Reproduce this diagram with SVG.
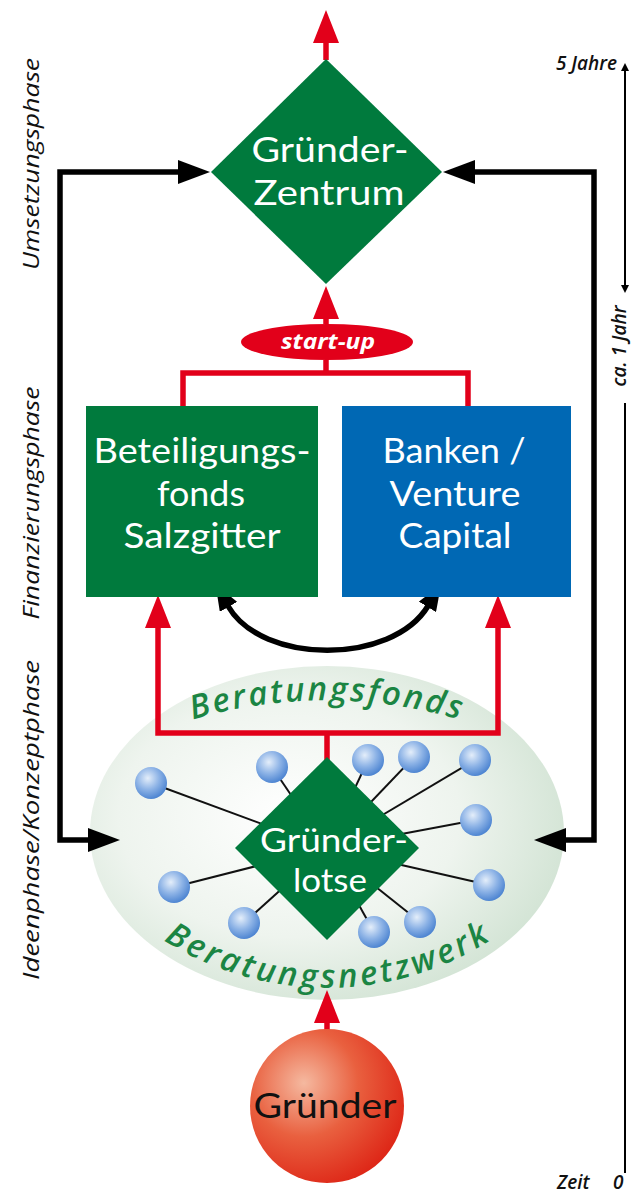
<svg xmlns="http://www.w3.org/2000/svg" width="631" height="1193" viewBox="0 0 631 1193">
<style>
.node-text{font-family:Lato,"Open Sans","Liberation Sans",sans-serif;fill:#fff;text-anchor:middle}
.phase{font-family:"Open Sans","Liberation Sans",sans-serif;font-style:italic;font-size:21px;fill:#111;text-anchor:middle}
.time{font-family:"Open Sans","Liberation Sans",sans-serif;font-style:italic;font-weight:600;font-size:19px;fill:#111}
.arc-label{font-family:"Open Sans","Liberation Sans",sans-serif;font-style:italic;font-weight:600;font-size:33px;fill:#1b8543}
.red{stroke:#e2001a;stroke-width:5.5;fill:none}
.blk{stroke:#000;stroke-width:5.5;fill:none}
.spoke{stroke:#111;stroke-width:2}
.ball{fill:url(#ballGrad)}
</style>
<defs>
<marker id="redHead" viewBox="0 0 33 26" refX="1" refY="13" markerWidth="33" markerHeight="26" markerUnits="userSpaceOnUse" orient="auto-start-reverse"><path d="M0,0 L33,13 L0,26 z" fill="#e2001a"/></marker>
<marker id="blkHead" viewBox="0 0 32 24" refX="1" refY="12" markerWidth="32" markerHeight="24" markerUnits="userSpaceOnUse" orient="auto-start-reverse"><path d="M0,0 L32,12 L0,24 z" fill="#000"/></marker>
<marker id="blkSmall" viewBox="0 0 26 20" refX="1" refY="10" markerWidth="26" markerHeight="20" markerUnits="userSpaceOnUse" orient="auto-start-reverse"><path d="M0,0 L26,10 L0,20 z" fill="#000"/></marker>
<marker id="tinyHead" viewBox="0 0 8 8" refX="1" refY="4" markerWidth="8" markerHeight="8" markerUnits="userSpaceOnUse" orient="auto-start-reverse"><path d="M0,0 L8,4 L0,8 z" fill="#000"/></marker>
<radialGradient id="ellGrad" cx="42%" cy="45%" r="60%"><stop offset="0" stop-color="#ffffff"/><stop offset="0.6" stop-color="#eef4ee"/><stop offset="1" stop-color="#d3e4d5"/></radialGradient>
<radialGradient id="ballGrad" cx="40%" cy="35%" r="65%"><stop offset="0" stop-color="#e4eefa"/><stop offset="0.55" stop-color="#8db3e6"/><stop offset="1" stop-color="#4f86d2"/></radialGradient>
<radialGradient id="gruenderGrad" cx="35%" cy="35%" r="70%"><stop offset="0" stop-color="#f5b9a0"/><stop offset="0.5" stop-color="#e9603f"/><stop offset="1" stop-color="#de2818"/></radialGradient>
<path id="arcTop" d="M188,721 A472,472 0 0 1 464,721"/>
<path id="arcBottom" d="M154,934 A305,305 0 0 0 500,934"/>
</defs>
<rect width="631" height="1193" fill="#fff"/>

<g id="beratungsnetzwerk-bg">
<ellipse cx="327" cy="833" rx="237" ry="167" fill="url(#ellGrad)"/>
<text class="arc-label"><textPath href="#arcTop" startOffset="50%" text-anchor="middle" textLength="270" lengthAdjust="spacing">Beratungsfonds</textPath></text>
<text class="arc-label"><textPath href="#arcBottom" startOffset="50%" text-anchor="middle" textLength="345" lengthAdjust="spacing">Beratungsnetzwerk</textPath></text>
</g>

<g id="connectors">
<path class="red" d="M326,60 L326,42" marker-end="url(#redHead)"/>
<path class="red" d="M326,324 L326,318" marker-end="url(#redHead)"/>
<path class="red" d="M326,360 L326,373 M183,406 L183,373 L468,373 L468,406"/>
<path class="red" d="M158,627 L158,733 L498,733 L498,627" marker-start="url(#redHead)" marker-end="url(#redHead)"/>
<path class="red" d="M327,733 L327,760"/>
<path class="red" d="M327,1030 L327,1022" marker-end="url(#redHead)"/>
<path class="blk" d="M179,172 L60,172 L60,840 L89,840" marker-start="url(#blkHead)" marker-end="url(#blkHead)"/>
<path class="blk" d="M474,172 L594,172 L594,840 L565,840" marker-start="url(#blkHead)" marker-end="url(#blkHead)"/>
<path class="blk" d="M228,606 C262,665 392,665 428,606" marker-start="url(#blkSmall)" marker-end="url(#blkSmall)"/>
</g>

<g id="netzwerk">
<g class="spoke">
<line x1="151" y1="783" x2="327" y2="848"/>
<line x1="272" y1="767" x2="327" y2="848"/>
<line x1="368" y1="760" x2="327" y2="848"/>
<line x1="414" y1="757" x2="327" y2="848"/>
<line x1="475" y1="760" x2="327" y2="848"/>
<line x1="476" y1="820" x2="327" y2="848"/>
<line x1="489" y1="885" x2="327" y2="848"/>
<line x1="420" y1="922" x2="327" y2="848"/>
<line x1="374" y1="932" x2="327" y2="848"/>
<line x1="244" y1="923" x2="327" y2="848"/>
<line x1="174" y1="887" x2="327" y2="848"/>
</g>
<circle class="ball" cx="151" cy="783" r="16"/>
<circle class="ball" cx="272" cy="767" r="16"/>
<circle class="ball" cx="368" cy="760" r="16"/>
<circle class="ball" cx="414" cy="757" r="16"/>
<circle class="ball" cx="475" cy="760" r="16"/>
<circle class="ball" cx="476" cy="820" r="16"/>
<circle class="ball" cx="489" cy="885" r="16"/>
<circle class="ball" cx="420" cy="922" r="16"/>
<circle class="ball" cx="374" cy="932" r="16"/>
<circle class="ball" cx="244" cy="923" r="16"/>
<circle class="ball" cx="174" cy="887" r="16"/>
</g>

<g id="gruenderzentrum">
<polygon points="326,59 442,172 326,284 211,172" fill="#007a3d"/>
<text class="node-text" x="330" y="162" font-size="35" textLength="157" lengthAdjust="spacingAndGlyphs">Gründer-</text>
<text class="node-text" x="329" y="205" font-size="35" textLength="151" lengthAdjust="spacingAndGlyphs">Zentrum</text>
</g>

<g id="startup">
<ellipse cx="327" cy="342" rx="86" ry="18" fill="#e2001a"/>
<text class="node-text" x="328" y="349" font-size="21" font-style="italic" font-weight="700" textLength="94" lengthAdjust="spacingAndGlyphs" style="font-family:'Open Sans','Liberation Sans',sans-serif">start-up</text>
</g>

<g id="beteiligungsfonds">
<rect x="86" y="406" width="232" height="191" fill="#007a3d"/>
<text class="node-text" x="202" y="463" font-size="35" textLength="217" lengthAdjust="spacingAndGlyphs">Beteiligungs-</text>
<text class="node-text" x="201" y="506" font-size="35" textLength="88" lengthAdjust="spacingAndGlyphs">fonds</text>
<text class="node-text" x="202" y="548" font-size="35" textLength="157" lengthAdjust="spacingAndGlyphs">Salzgitter</text>
</g>

<g id="banken">
<rect x="342" y="406" width="229" height="191" fill="#0068b4"/>
<text class="node-text" x="454" y="463" font-size="35" textLength="143" lengthAdjust="spacingAndGlyphs">Banken /</text>
<text class="node-text" x="455" y="506" font-size="35" textLength="131" lengthAdjust="spacingAndGlyphs">Venture</text>
<text class="node-text" x="455" y="548" font-size="35" textLength="113" lengthAdjust="spacingAndGlyphs">Capital</text>
</g>

<g id="gruenderlotse">
<polygon points="327,757 419,848 327,940 235,848" fill="#007a3d"/>
<text class="node-text" x="334" y="852" font-size="33" textLength="148" lengthAdjust="spacingAndGlyphs">Gründer-</text>
<text class="node-text" x="330" y="892" font-size="33" textLength="74" lengthAdjust="spacingAndGlyphs">lotse</text>
</g>

<g id="gruender">
<circle cx="327" cy="1106" r="77" fill="url(#gruenderGrad)"/>
<text class="node-text" x="325" y="1118" font-size="35" textLength="143" lengthAdjust="spacingAndGlyphs" style="fill:#111">Gründer</text>
</g>

<g id="phasen">
<text class="phase" transform="translate(39,164) rotate(-90)" textLength="212" lengthAdjust="spacingAndGlyphs">Umsetzungsphase</text>
<text class="phase" transform="translate(39,503) rotate(-90)" textLength="233" lengthAdjust="spacingAndGlyphs">Finanzierungsphase</text>
<text class="phase" transform="translate(39,820) rotate(-90)" textLength="320" lengthAdjust="spacingAndGlyphs">Ideenphase/Konzeptphase</text>
</g>

<g id="zeitachse">
<line x1="625" y1="70" x2="625" y2="286" stroke="#000" stroke-width="2" marker-start="url(#tinyHead)" marker-end="url(#tinyHead)"/>
<line x1="625" y1="403" x2="625" y2="1173" stroke="#000" stroke-width="2"/>
<text class="time" x="617" y="70" text-anchor="end">5 Jahre</text>
<text class="time" transform="translate(626,346) rotate(-90)" text-anchor="middle">ca. 1 Jahr</text>
<text class="time" x="557" y="1189">Zeit</text>
<text class="time" x="613" y="1189">0</text>
</g>
</svg>
